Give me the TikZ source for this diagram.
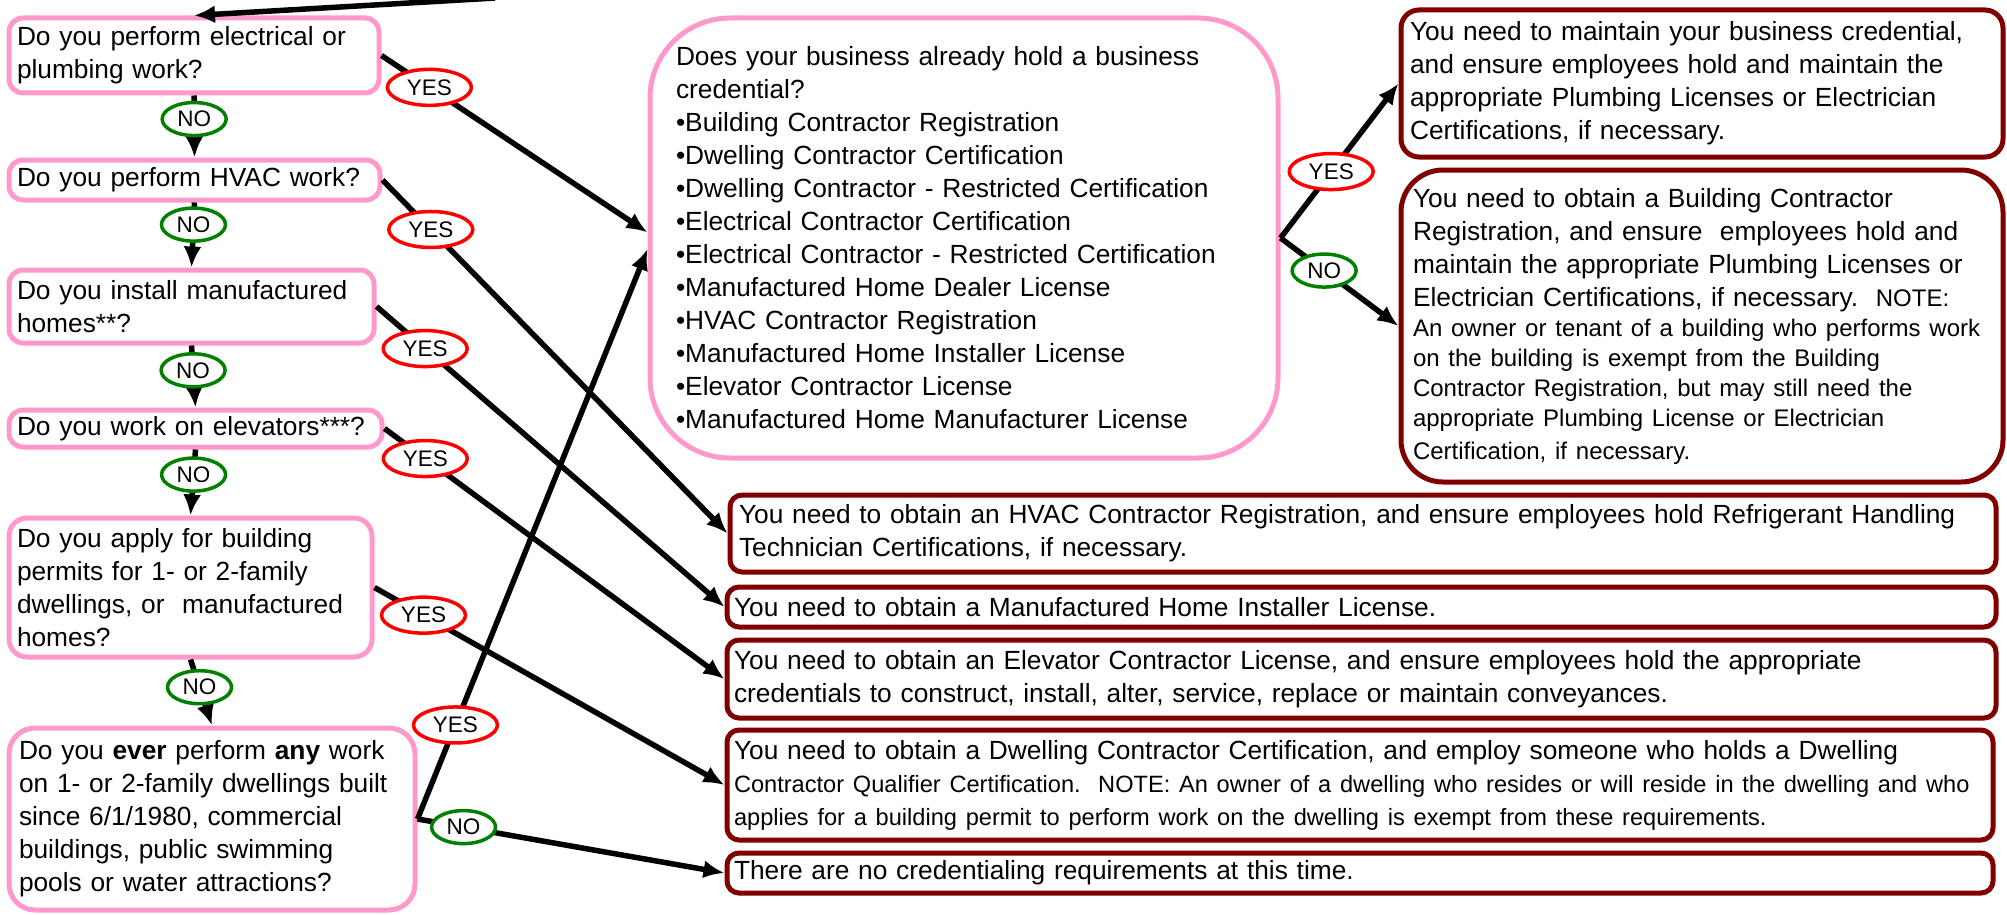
\documentclass[tikz,border=0pt]{standalone}
\usepackage{fontspec}
\setmainfont{Liberation Sans}
\usetikzlibrary{arrows.meta, shapes.geometric}
\frenchspacing

\definecolor{qpink}{RGB}{255,153,204}
\definecolor{rmaroon}{RGB}{128,0,0}
\definecolor{ygreen}{RGB}{0,128,0}

\newcommand{\mainsize}{\fontsize{26.3}{33}\selectfont}
\newcommand{\notesize}{\fontsize{24}{30}\selectfont}
\newcommand{\dwellnotesize}{\fontsize{23.6}{30}\selectfont}
\newcommand{\labelsize}{\fontsize{22.5}{26}\selectfont}

\begin{document}
\begin{tikzpicture}[x = 1pt, y = -1pt,
    question/.style = {draw = qpink, line width = 5pt, fill = white, anchor = north west, align = left, inner xsep = 8pt, inner ysep = 0pt, font = \mainsize},
    result/.style = {draw = rmaroon, line width = 5pt, rounded corners = 12pt, fill = white, anchor = north west, align = left, inner xsep = 9pt, inner ysep = 0pt, font = \mainsize},
    yes/.style = {ellipse, draw = red, line width = 3.5pt, fill = white, minimum width = 84pt, minimum height = 36pt, inner sep = 0pt, font = \labelsize},
    no/.style = {ellipse, draw = ygreen, line width = 3.5pt, fill = white, minimum width = 64pt, minimum height = 33pt, inner sep = 0pt, font = \labelsize},
    flow/.style = {line width = 5.5pt, -{Latex[length = 21pt, width = 18pt]}}
    ]
    \useasboundingbox (0,0) rectangle (2007,915);

    % questions down the left
    \node[question, rounded corners = 14pt, text width = 354pt, minimum height = 75pt] (elec) at (6.5,15.5)
        {Do you perform electrical or\\plumbing work?};
    \node[question, rounded corners = 14pt, text width = 355pt, minimum height = 40pt] (hvac) at (6.5,157.5)
        {Do you perform HVAC work?};
    \node[question, rounded corners = 14pt, text width = 349pt, minimum height = 73pt] (homes) at (6.5,267.5)
        {Do you install manufactured\\homes**?};
    \node[question, rounded corners = 14pt, text width = 357pt, minimum height = 37pt] (elev) at (6.5,407.5)
        {Do you work on elevators***?};
    \node[question, rounded corners = 18pt, text width = 347pt, minimum height = 139pt] (permit) at (6.5,515.5)
        {Do you apply for building\\permits for 1- or 2-family\\dwellings, or~ manufactured\\homes?};
    \node[question, rounded corners = 26pt, inner xsep = 10pt, text width = 386pt, minimum height = 182pt] (anywork) at (6.5,725.5)
        {Do you \textbf{ever} perform \textbf{any} work\\on 1- or 2-family dwellings built\\since 6/1/1980, commercial\\buildings, public swimming\\pools or water attractions?};

    % business credential check
    \node[question, rounded corners = 80pt, inner xsep = 26pt, text width = 576pt, minimum height = 440pt] (cred) at (647.5,15.5)
        {Does your business already hold a business\\credential?\\%
        •Building Contractor Registration\\•Dwelling Contractor Certification\\%
        •Dwelling Contractor - Restricted Certification\\•Electrical Contractor Certification\\%
        •Electrical Contractor - Restricted Certification\\•Manufactured Home Dealer License\\%
        •HVAC Contractor Registration\\•Manufactured Home Installer License\\%
        •Elevator Contractor License\\•Manufactured Home Manufacturer License};

    % results
    \node[result, rounded corners = 18pt, text width = 584pt, minimum height = 147pt] (keep) at (1398.5,7.5)
        {You need to maintain your business credential,\\and ensure employees hold and maintain the\\appropriate Plumbing Licenses or Electrician\\Certifications, if necessary.};
    \node[result, rounded corners = 42pt, inner xsep = 12pt, text width = 578pt, minimum height = 312pt] (getbcr) at (1398.5,167.5)
        {You need to obtain a Building Contractor\\Registration, and ensure~ employees hold and\\maintain the appropriate Plumbing Licenses or\\[3pt]%
        Electrician Certifications, if necessary.~ \notesize NOTE:\\\mbox{An owner or tenant of a building who performs work}\\%
        on the building is exempt from the Building\\Contractor Registration, but may still need the\\%
        appropriate Plumbing License or Electrician\\Certification, if necessary.};
    \node[result, text width = 1248pt, minimum height = 77pt] (gethvac) at (727.5,492.5)
        {You need to obtain an HVAC Contractor Registration, and ensure employees hold Refrigerant Handling\\Technician Certifications, if necessary.};
    \node[result, inner xsep = 7pt, text width = 1255pt, minimum height = 40pt] (getmhi) at (724.5,584.5)
        {You need to obtain a Manufactured Home Installer License.};
    \node[result, inner xsep = 7pt, text width = 1255pt, minimum height = 78pt] (getelev) at (724.5,637.5)
        {You need to obtain an Elevator Contractor License, and ensure employees hold the appropriate\\credentials to construct, install, alter, service, replace or maintain conveyances.};
    \node[result, inner xsep = 7pt, text width = 1252pt, minimum height = 110pt] (getdcc) at (724.5,727.5)
        {You need to obtain a Dwelling Contractor Certification, and employ someone who holds a Dwelling\\%
        \mbox{\dwellnotesize Contractor Qualifier Certification.~ NOTE: An owner of a dwelling who resides or will reside in the dwelling and who}\\%
        \dwellnotesize applies for a building permit to perform work on the dwelling is exempt from these requirements.};
    \node[result, inner xsep = 7pt, text width = 1252pt, minimum height = 40pt] (none) at (724.5,850.5)
        {There are no credentialing requirements at this time.};

    \coordinate (incoming) at (495,-2);

    % connectors
    \draw[flow] (incoming) -- (elec.north);
    \draw[flow] (elec.south) -- node[no, pos = 0.38]{NO} (hvac.north);
    \draw[flow] (hvac.south) -- node[no, pos = 0.34]{NO} (homes.north);
    \draw[flow] (homes.south) -- node[no, pos = 0.4]{NO} (elev.north);
    \draw[flow] (elev.south) -- node[no, pos = 0.38]{NO} (permit.north);
    \draw[flow] (permit.south) -- node[no, pos = 0.42]{NO} (anywork.north);
    \draw[flow] (elec.east) -- node[yes, pos = 0.18]{YES} (cred.179);
    \draw[flow] (hvac.east) -- node[yes, pos = 0.14]{YES} (gethvac.west);
    \draw[flow] (homes.east) -- node[yes, pos = 0.14]{YES} (getmhi.west);
    \draw[flow] (elev.east) -- node[yes, pos = 0.12]{YES} (getelev.west);
    \draw[flow] (permit.east) -- node[yes, pos = 0.14]{YES} (getdcc.west);
    \draw[flow] (anywork.east) -- node[yes, pos = 0.165]{YES} (cred.182);
    \draw[flow] (anywork.east) -- node[no, pos = 0.15]{NO} (none.west);
    \draw[flow] (cred.east) -- node[yes, pos = 0.43]{YES} (keep.west);
    \draw[flow] (cred.east) -- node[no, pos = 0.37]{NO} (getbcr.west);
\end{tikzpicture}
\end{document}
